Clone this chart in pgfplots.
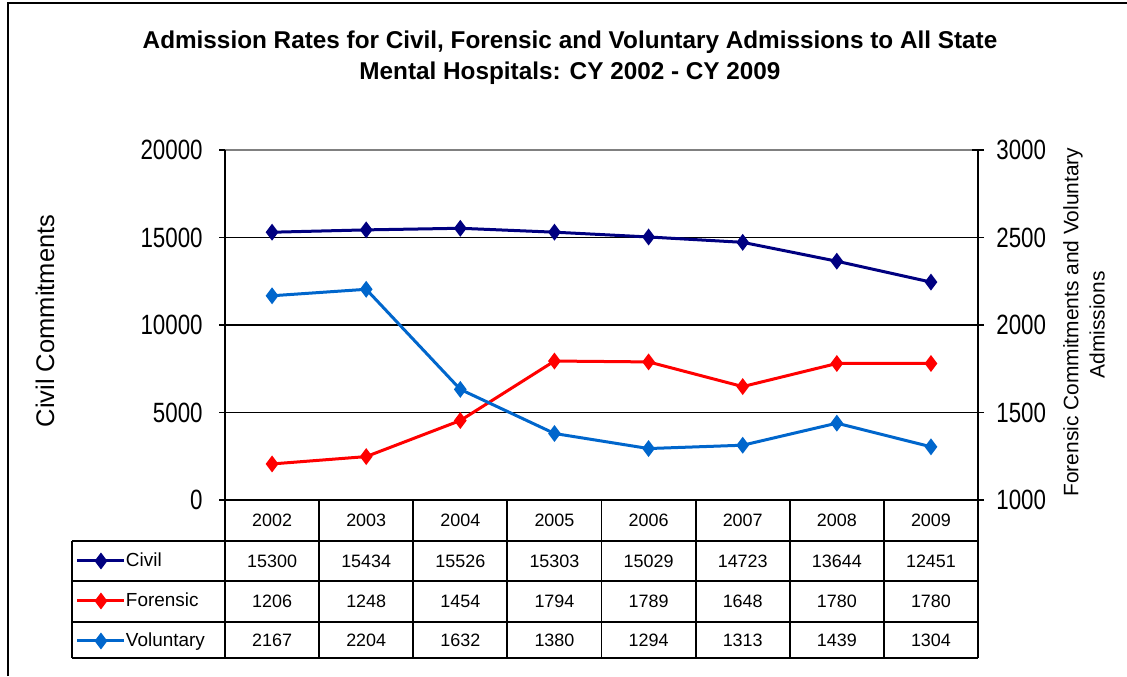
\documentclass[border=0pt]{standalone}
\usepackage{graphicx}
\usepackage{pgfplots}
\pgfplotsset{compat=1.18}
\usepackage{pgfplotstable}
\usepackage{fontspec}
\setmainfont{Liberation Sans}
\definecolor{civ}{RGB}{0,0,128}
\definecolor{frn}{RGB}{255,0,0}
\definecolor{vol}{RGB}{0,102,204}

\pgfplotstableread{
year civil forensic voluntary
2002 15300 1206 2167
2003 15434 1248 2204
2004 15526 1454 1632
2005 15303 1794 1380
2006 15029 1789 1294
2007 14723 1648 1313
2008 13644 1780 1439
2009 12451 1780 1304
}\data

\pgfplotsset{
  base/.style={
    at={(112.5bp,88bp)}, anchor=south west, scale only axis,
    width=376.5bp, height=175bp,
    xmin=-0.5, xmax=7.5, xtick=\empty,
    separate axis lines,
    x axis line style={draw=none},
    y axis line style={black, line width=0.75bp},
    tick align=center, major tick length=6bp,
    tick style={black, line width=0.75bp},
    scaled ticks=false,
    /pgf/number format/assume math mode=true,
    /pgf/number format/1000 sep={},
    clip=false,
  },
  ser/.style={line width=1.5bp, mark=diamond*, mark size=3bp, mark options={solid}},
}

\begin{document}
\begin{tikzpicture}[x=0.5bp,y=0.5bp]
\path[use as bounding box] (0,0) rectangle (1127,676);
\draw[line width=1bp] (8,0) -- (8,673) -- (1127,673);

% title
\node[font=\bfseries\fontsize{12.2}{14}\selectfont] at (570,634) {Admission Rates for Civil, Forensic and Voluntary Admissions to All State};
\node[font=\bfseries\fontsize{12.2}{14}\selectfont] at (570,603) {Mental Hospitals: CY 2002 - CY 2009};

% axis labels
\node[rotate=90, font=\fontsize{12.8}{14}\selectfont] at (45,355) {Civil Commitments};
\node[rotate=90, font=\fontsize{10.5}{12}\selectfont] at (1073,354) {Forensic Commitments and Voluntary};
\node[rotate=90, font=\fontsize{10.5}{12}\selectfont] at (1097,351) {Admissions};

% left axis: civil
\begin{axis}[base,
  ymin=0, ymax=20000, ytick pos=left,
  ytick={0,5000,10000,15000}, extra y ticks={20000},
  extra y tick style={grid=none},
  ymajorgrids, grid style={black, line width=0.75bp},
  yticklabel={\scalebox{0.8}[1]{\fontsize{14}{16}\selectfont\pgfmathprintnumber{\tick}}},
  yticklabel style={anchor=east, inner sep=0pt, xshift=-8bp},
]
\draw[gray, line width=0.75bp] (axis cs:-0.5,20000) -- (axis cs:7.5,20000);
\addplot[civ, ser] table[x expr=\coordindex, y=civil]{\data};
\end{axis}

% right axis: forensic & voluntary
\begin{axis}[base,
  ymin=1000, ymax=3000, ytick pos=right, yticklabel pos=right,
  ytick={1000,1500,2000,2500,3000},
  yticklabel={\scalebox{0.8}[1]{\fontsize{14}{16}\selectfont\pgfmathprintnumber{\tick}}},
  yticklabel style={anchor=west, inner sep=0pt, xshift=6bp},
  legend image code/.code={\draw[mark repeat=2, mark phase=2, #1] plot coordinates {(0bp,0bp) (11.75bp,0bp) (23.5bp,0bp)};},
  legend style={at={(-0.1979,-0.1171)}, anchor=north west, draw=none, fill=none,
    inner sep=0pt, outer sep=0pt, row sep=0pt,
    nodes={inner sep=0pt, minimum height=20bp, font=\fontsize{9.5}{11}\selectfont},
    /tikz/every even column/.append style={column sep=2.5bp}},
  legend cell align=left,
]
\addlegendimage{civ, ser}
\addlegendentry{Civil}
\addplot[frn, ser] table[x expr=\coordindex, y=forensic]{\data};
\addlegendentry{Forensic}
\addplot[vol, ser] table[x expr=\coordindex, y=voluntary]{\data};
\addlegendentry{Voluntary}
\end{axis}

% data table grid
\draw[black, line width=0.9bp] (225,176) -- (225,18);
\foreach \c in {1,...,8} {\draw[black, line width=0.9bp] (225+\c*94.125,176) -- (225+\c*94.125,18);}
\draw[black, line width=0.9bp] (72,135) -- (72,18);
\foreach \r in {135,95,54,18} {\draw[black, line width=0.9bp] (72,\r) -- (978,\r);}

\begin{axis}[at={(112.5bp,9bp)}, anchor=south west, scale only axis,
  width=376.5bp, height=79bp, xmin=-0.5, xmax=7.5, ymin=0, ymax=158,
  axis line style={draw=none}, xtick=\empty, ytick=\empty, clip=false,
  nodes near coords, point meta=explicit symbolic,
  every node near coord/.style={anchor=center, black, inner sep=0pt, font=\fontsize{9}{11}\selectfont},
]
\addplot[only marks, mark=*, mark size=0pt, mark options={draw=none, fill=none}] table[x expr=\coordindex, y expr=137.5, meta=year]{\data};
\addplot[only marks, mark=*, mark size=0pt, mark options={draw=none, fill=none}] table[x expr=\coordindex, y expr=97, meta=civil]{\data};
\addplot[only marks, mark=*, mark size=0pt, mark options={draw=none, fill=none}] table[x expr=\coordindex, y expr=56.5, meta=forensic]{\data};
\addplot[only marks, mark=*, mark size=0pt, mark options={draw=none, fill=none}] table[x expr=\coordindex, y expr=18, meta=voluntary]{\data};
\end{axis}
\end{tikzpicture}
\end{document}
